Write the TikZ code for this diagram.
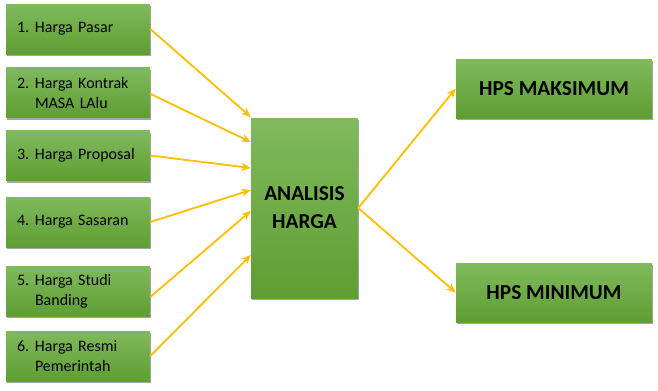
\documentclass[tikz,border=0pt]{standalone}
\usepackage{fontspec}
\setmainfont{Carlito}
\usepackage{xcolor}
\usetikzlibrary{arrows.meta, shadows, positioning}

\definecolor{boxtop}{RGB}{128,186,92}
\definecolor{boxbot}{RGB}{94,158,50}
\definecolor{linkcol}{RGB}{255,190,0}

\newcommand{\hitem}[2]{\makebox[13.5pt][l]{#1}\parbox[t]{78pt}{\raggedright #2}}

\tikzset{
  greenbox/.style={draw=none, top color=boxtop, bottom color=boxbot,
    drop shadow={shadow xshift=1pt, shadow yshift=-1.5pt, opacity=0.35, fill=black}},
  srcbox/.style={greenbox, minimum width=108pt, minimum height=37.5pt,
    text width=91.5pt, inner xsep=8.25pt, align=left,
    font=\fontsize{12}{15}\selectfont},
  link/.style={draw=linkcol, line width=1.35pt, -{Stealth[length=7pt, width=6pt]}}
}

\begin{document}
\begin{tikzpicture}[x=0.75pt, y=-0.75pt]
\useasboundingbox (0,0) rectangle (658,390);

% input boxes
\node[srcbox] (p1) at (78,29)    {\hitem{1.}{Harga Pasar}};
\node[srcbox] (p2) at (78,92.5)  {\hitem{2.}{Harga Kontrak MASA LAlu}};
\node[srcbox] (p3) at (78,155.5) {\hitem{3.}{Harga Proposal}};
\node[srcbox] (p4) at (78,222)   {\hitem{4.}{Harga Sasaran}};
\node[srcbox] (p5) at (78,291)   {\hitem{5.}{Harga Studi Banding}};
\node[srcbox] (p6) at (78,356)   {\hitem{6.}{Harga Resmi Pemerintah}};

% analysis box
\node[greenbox, minimum width=80.25pt, minimum height=135pt, align=center,
  font=\fontsize{16}{21}\selectfont\bfseries] (ana) at (304.5,208) {ANALISIS\\HARGA};

% results
\node[greenbox, minimum width=147pt, minimum height=44.25pt,
  font=\fontsize{16}{19}\selectfont\bfseries] (hmax) at (554,88.5) {HPS MAKSIMUM};
\node[greenbox, minimum width=147pt, minimum height=44.25pt,
  font=\fontsize{16}{19}\selectfont\bfseries] (hmin) at (554,292.5) {HPS MINIMUM};

% connectors
\foreach \i/\s/\t in {1/0/68.25, 2/-1/49.5, 3/0/30, 4/0/13.5, 5/-4.5/-2.25, 6/0/-35.25}
  \draw[link] ([yshift=\s pt]p\i.east) -- ([yshift=\t pt]ana.west);

\draw[link] (ana.east) -- (hmax.west);
\draw[link] (ana.east) -- (hmin.west);
\end{tikzpicture}
\end{document}
